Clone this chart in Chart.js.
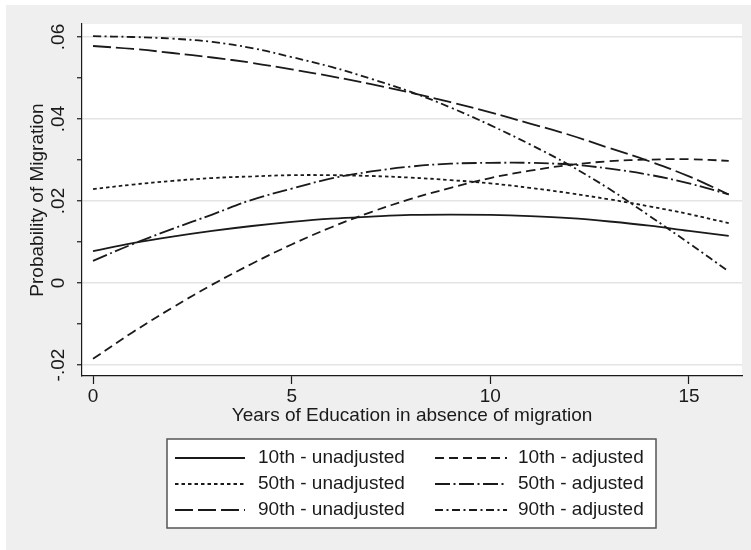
<!DOCTYPE html>
<html>
<head>
<meta charset="utf-8">
<script src="https://cdn.jsdelivr.net/npm/chart.js@4.4.1/dist/chart.umd.min.js"></script>
<style>
  html, body { margin: 0; padding: 0; background: #fff; }
  #wrap { width: 751px; height: 550px; }
</style>
</head>
<body>
<div id="wrap"><canvas id="chart" width="751" height="550"></canvas></div>
<script>
// data
const years = [0, 1, 2, 3, 4, 5, 6, 7, 8, 9, 10, 11, 12, 13, 14, 15, 16];

const p10Unadj = [.0078, .0097, .0113, .0127, .0139, .0149, .0157, .0162, .0166, .0167, .0166, .0163, .0158, .0150, .0140, .0127, .0115];
const p10Adj   = [-.0185, -.0120, -.0060, -.0004, .0047, .0094, .0136, .0173, .0205, .0232, .0256, .0274, .0288, .0297, .0301, .0302, .0298];
const p50Unadj = [.0229, .0240, .0249, .0256, .0260, .0263, .0263, .0261, .0257, .0251, .0243, .0232, .0219, .0204, .0187, .0168, .0146];
const p50Adj   = [.0054, .0095, .0132, .0167, .0203, .0230, .0255, .0272, .0284, .0291, .0293, .0293, .0289, .0279, .0264, .0243, .0216];
const p90Unadj = [.0578, .0571, .0561, .0550, .0537, .0521, .0504, .0485, .0464, .0441, .0416, .0389, .0361, .0329, .0297, .0260, .0216];
const p90Adj   = [.0602, .0600, .0596, .0588, .0573, .0551, .0527, .0498, .0466, .0428, .0385, .0338, .0287, .0229, .0164, .0097, .0028];

const seriesLabels = ['10th - unadjusted', '10th - adjusted', '50th - unadjusted',
                      '50th - adjusted', '90th - unadjusted', '90th - adjusted'];
const seriesValues = [p10Unadj, p10Adj, p50Unadj, p50Adj, p90Unadj, p90Adj];
const seriesDash = [[], [9, 5], [3.5, 3], [15, 3.5, 2, 3.5], [18, 5], [8, 3.5, 2, 3.5]];

const yTickValues = [-.02, -.01, 0, .01, .02, .03, .04, .05, .06];
const yTickLabels = ['-.02', '', '0', '', '.02', '', '.04', '', '.06'];
const xTickValues = [0, 5, 10, 15];

const FONT = '"Liberation Sans", Arial, sans-serif';
const INK = '#1a1a1a';

const datasets = seriesValues.map((vals, i) => ({
  label: seriesLabels[i],
  data: years.map((x, j) => ({x: x, y: vals[j]})),
  borderColor: INK,
  borderWidth: 1.8,
  borderDash: seriesDash[i],
  pointRadius: 0,
  fill: false,
  tension: 0.4
}));

// grey page, white plot region
const background = {
  id: 'background',
  beforeDraw(chart){
    const ctx = chart.ctx, a = chart.chartArea;
    ctx.save();
    ctx.fillStyle = '#fff';
    ctx.fillRect(0, 0, chart.width, chart.height);
    ctx.fillStyle = '#efefef';
    ctx.fillRect(6, 5, chart.width - 6, chart.height - 5);
    ctx.fillStyle = '#fff';
    ctx.fillRect(a.left, a.top, a.right - a.left, a.bottom - a.top);
    ctx.restore();
  }
};

// two-column boxed legend under the axis
const boxLegend = {
  id: 'boxLegend',
  afterDraw(chart){
    const ctx = chart.ctx;
    const box = {x: 167, y: 439, w: 489, h: 89};
    const rowY = [458, 484, 510];
    const lineX = [[175, 245], [435, 507]];
    const textX = [258, 518];
    ctx.save();
    ctx.fillStyle = '#fff';
    ctx.fillRect(box.x, box.y, box.w, box.h);
    ctx.strokeStyle = '#555';
    ctx.lineWidth = 1.5;
    ctx.strokeRect(box.x, box.y, box.w, box.h);
    chart.data.datasets.forEach((ds, i) => {
      const col = i % 2, row = Math.floor(i / 2);
      const y = rowY[row];
      ctx.beginPath();
      ctx.setLineDash(ds.borderDash);
      ctx.strokeStyle = INK;
      ctx.lineWidth = ds.borderWidth;
      ctx.moveTo(lineX[col][0], y);
      ctx.lineTo(lineX[col][1], y);
      ctx.stroke();
      ctx.setLineDash([]);
      ctx.fillStyle = INK;
      ctx.font = '19px ' + FONT;
      ctx.textAlign = 'left';
      ctx.textBaseline = 'middle';
      ctx.fillText(ds.label, textX[col], y);
    });
    ctx.restore();
  }
};

new Chart(document.getElementById('chart'), {
  type: 'line',
  data: {datasets},
  plugins: [background, boxLegend],
  options: {
    responsive: false,
    animation: false,
    layout: {padding: {left: 6, top: 24, right: 9, bottom: 124}},
    plugins: {legend: {display: false}, tooltip: {enabled: false}},
    scales: {
      x: {
        type: 'linear',
        min: -0.277,
        max: 16.334,
        afterBuildTicks: s => { s.ticks = xTickValues.map(v => ({value: v})); },
        afterFit: s => { s.height = 50; },
        grid: {color: 'rgba(0,0,0,0)', tickColor: INK, tickLength: 8, tickWidth: 1.2},
        border: {display: true, color: INK, width: 1.2},
        ticks: {color: INK, font: {family: FONT, size: 19}, padding: 1.5, maxRotation: 0, autoSkip: false},
        title: {display: true, text: 'Years of Education in absence of migration', color: INK,
                font: {family: FONT, size: 19}, padding: {top: 0, bottom: -1}}
      },
      y: {
        type: 'linear',
        min: -0.02268,
        max: 0.06317,
        afterBuildTicks: s => { s.ticks = yTickValues.map(v => ({value: v})); },
        afterFit: s => { s.width = 76; },
        grid: {
          color: c => yTickLabels[c.index] ? '#e4e4e4' : 'rgba(0,0,0,0)',
          lineWidth: 1.5,
          tickColor: INK, tickLength: 5, tickWidth: 1.2
        },
        border: {display: true, color: INK, width: 1.2},
        ticks: {
          color: INK, font: {family: FONT, size: 19}, padding: 1.6,
          minRotation: 90, maxRotation: 90, crossAlign: 'center', autoSkip: false,
          callback: (v, i) => yTickLabels[i]
        },
        title: {display: true, text: 'Probability of Migration', color: INK,
                font: {family: FONT, size: 19}, padding: {top: 20, bottom: 0}}
      }
    }
  }
});
</script>
</body>
</html>
